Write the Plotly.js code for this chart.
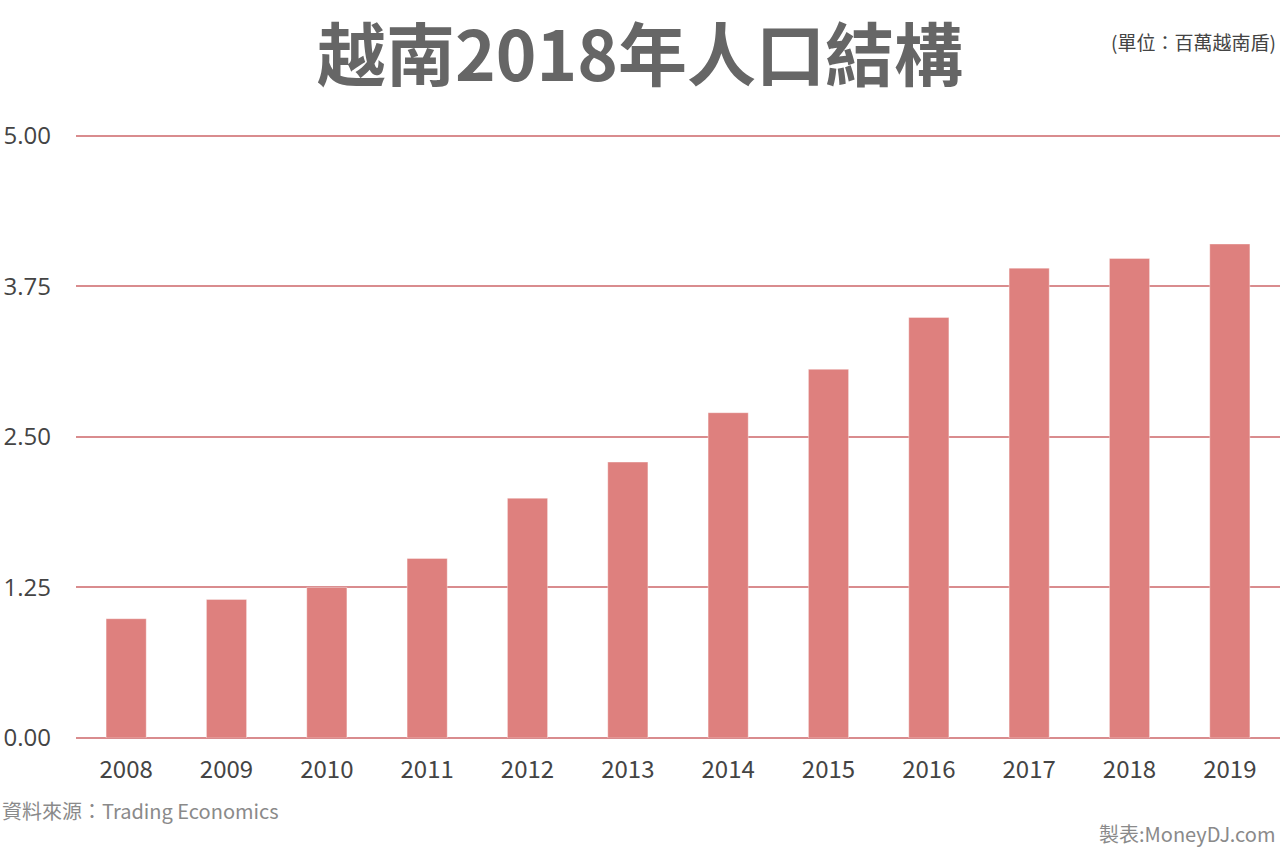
<!DOCTYPE html>
<html>
<head>
<meta charset="utf-8">
<script src="https://cdn.plot.ly/plotly-3.0.1.min.js"></script>
<style>
  html, body { margin: 0; padding: 0; background: #fff; }
  #chart { width: 1280px; height: 849px; }
</style>
</head>
<body>
<div id="chart"></div>
<script>
const years = ['2008','2009','2010','2011','2012','2013','2014','2015','2016','2017','2018','2019'];
const values = [0.99, 1.15, 1.25, 1.49, 1.99, 2.29, 2.70, 3.06, 3.49, 3.90, 3.98, 4.10];
const yTicks = [0, 1.25, 2.5, 3.75, 5];
const titleText = '越南2018年人口結構';
const unitText = '(單位：百萬越南盾)';
const sourceText = '資料來源：Trading Economics';
const creditText = '製表:MoneyDJ.com';

const FONT = '"Noto Sans CJK TC", "Noto Sans", sans-serif';
const W = 1280, H = 849;
const margin = {l: 76, r: 0, t: 132, b: 111};
const plotW = W - margin.l - margin.r;
const plotH = H - margin.t - margin.b;
const px2x = p => (p - margin.l) / plotW;
const py2y = p => (H - margin.b - p) / plotH;

const trace = {
  type: 'bar',
  x: years,
  y: values,
  marker: {color: '#DE807E', line: {color: 'rgba(255,255,255,0.35)', width: 1}},
  hoverinfo: 'x+y'
};

const layout = {
  width: W, height: H,
  margin: margin,
  paper_bgcolor: '#ffffff',
  plot_bgcolor: '#ffffff',
  showlegend: false,
  bargap: 0.6,
  font: {family: FONT, color: '#444'},
  title: {
    text: '<b>' + titleText + '</b>',
    font: {family: FONT, size: 69, color: '#666666'},
    x: 0.5, xref: 'container', xanchor: 'center',
    y: 1 - 57 / H, yref: 'container', yanchor: 'middle'
  },
  xaxis: {
    type: 'category',
    showgrid: false,
    zeroline: false,
    showline: false,
    ticks: '',
    tickfont: {family: FONT, size: 24, color: '#444'},
    ticklabelstandoff: 15
  },
  yaxis: {
    range: [0, 5.03],
    tickvals: yTicks,
    ticktext: yTicks.map(v => v.toFixed(2)),
    showgrid: true,
    gridcolor: '#D98C8E',
    gridwidth: 2,
    zeroline: true,
    zerolinecolor: '#D98C8E',
    zerolinewidth: 2,
    showline: false,
    ticks: '',
    tickfont: {family: '"Open Sans", "Noto Sans", sans-serif', size: 24, color: '#444'},
    ticklabelstandoff: 24
  },
  annotations: [
    {text: unitText, xref: 'paper', yref: 'paper', x: 1, y: py2y(41), xshift: -2,
     xanchor: 'right', yanchor: 'middle', showarrow: false,
     font: {family: FONT, size: 19, color: '#444'}},
    {text: sourceText, xref: 'paper', yref: 'paper', x: px2x(0), y: py2y(810),
     xanchor: 'left', yanchor: 'middle', showarrow: false,
     font: {family: FONT, size: 20, color: '#8a8a8a'}},
    {text: creditText, xref: 'paper', yref: 'paper', x: 1, y: py2y(833), xshift: -3,
     xanchor: 'right', yanchor: 'middle', showarrow: false,
     font: {family: FONT, size: 20, color: '#8a8a8a'}}
  ]
};

Plotly.newPlot('chart', [trace], layout, {displayModeBar: false, staticPlot: true});
</script>
</body>
</html>
